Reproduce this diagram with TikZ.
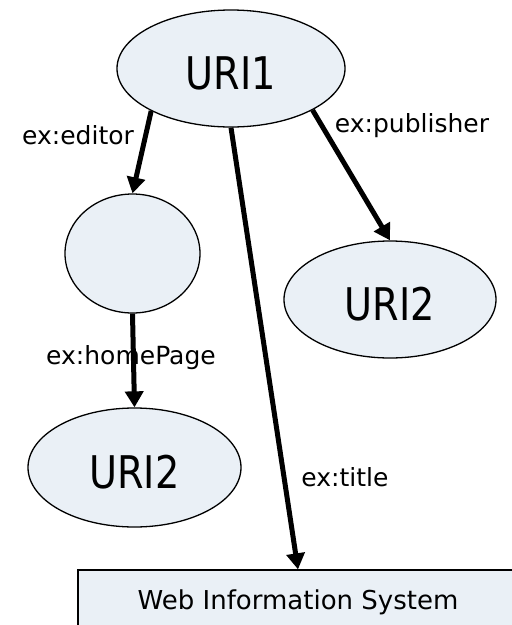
\documentclass[tikz,border=0pt]{standalone}
\usepackage{fontspec}
\setmainfont{DejaVu Sans}
\usetikzlibrary{shapes.geometric,arrows.meta}
\definecolor{nodefill}{RGB}{234,240,246}
\begin{document}
\begin{tikzpicture}[x=1pt,y=-1pt,
  res/.style={ellipse,draw=black,line width=1.3pt,fill=nodefill,inner sep=0pt},
  big/.style={font=\fontsize{45}{50}\selectfont,text height=41pt,text depth=0pt},
  lbl/.style={font=\fontsize{25}{28}\selectfont,inner sep=0pt},
  rel/.style={line width=5pt,-{Triangle[length=16pt,width=18pt]}}]
\useasboundingbox (0,0) rectangle (512,625);
\clip (0,0) rectangle (512,625);
% nodes
\node[res,big,minimum width=228pt,minimum height=117pt] (u1) at (231,68.5) {\scalebox{0.85}[1]{URI1}};
\node[res,minimum width=135pt,minimum height=119pt] (b) at (132.5,253.5) {};
\node[res,big,minimum width=212pt,minimum height=117pt] (r) at (390,299.5) {\scalebox{0.85}[1]{URI2}};
\node[res,big,minimum width=213pt,minimum height=119pt] (l) at (134.5,467.5) {\scalebox{0.85}[1]{URI2}};
\node[draw=black,line width=1.3pt,fill=nodefill,minimum width=440pt,minimum height=64pt,
      font=\fontsize{26}{30}\selectfont,text height=20pt,text depth=6pt] (w) at (298,602) {Web Information System};
% labels
\node[lbl] (le) at (78,135.5) {ex:editor};
\node[lbl] (lp) at (412,126) {ex:publisher};
\node[lbl] (lh) at (131,357.5) {ex:homePage};
\node[lbl] (lt) at (345,477.5) {ex:title};
% connectors
\draw[rel] (u1.208) -- (b.north);
\draw[rel] (u1.333) -- (r.north);
\draw[rel] (u1.south) -- (w.north);
\draw[rel] (b.south) -- (l.north);
\end{tikzpicture}
\end{document}
